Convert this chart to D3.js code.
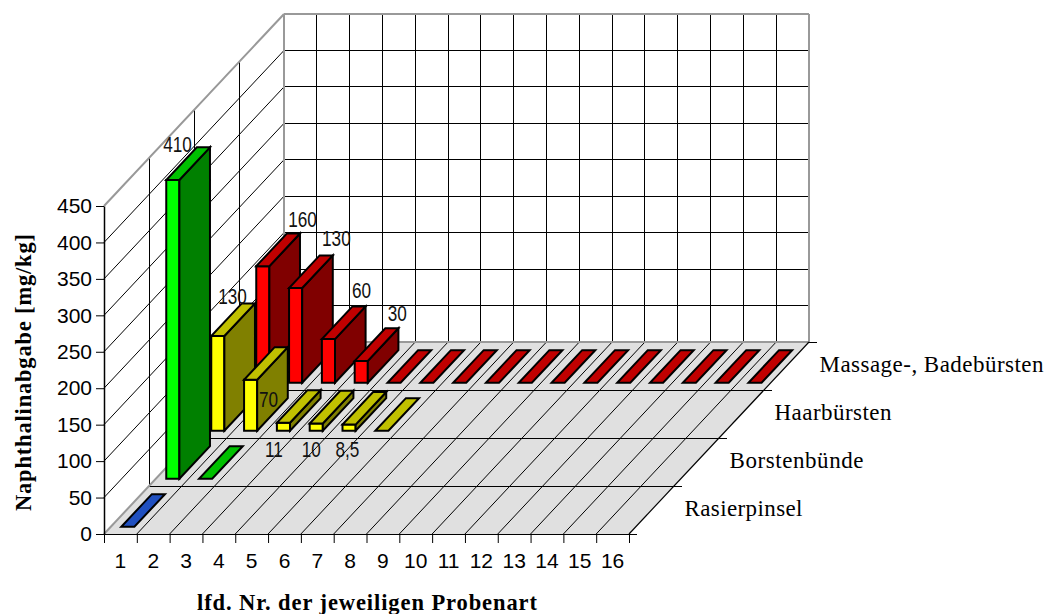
<!DOCTYPE html>
<html>
<head>
<meta charset="utf-8">
<script src="https://cdn.jsdelivr.net/npm/d3@7"></script>
<style>
    html, body { margin: 0; padding: 0; background: #fff; }
    svg { display: block; }
    .num { font-family: "Liberation Sans", Arial, sans-serif; fill: #000; }
    .serif { font-family: "Liberation Serif", "Times New Roman", serif; fill: #000; }
</style>
</head>
<body>
<div id="chart"></div>
<script>
const probeNumbers = ["1","2","3","4","5","6","7","8","9","10","11","12","13","14","15","16"];
const seriesNames = ["Rasierpinsel", "Borstenbünde", "Haarbürsten", "Massage-, Badebürsten"];
const valueTicks = [0, 50, 100, 150, 200, 250, 300, 350, 400, 450];

const rasierpinsel = [0];
const borstenbuende = [410, 0];
const haarbuersten = [130, 70, 11, 10, 8.5, 0];
const massagebuersten = [160, 130, 60, 30, 0, 0, 0, 0, 0, 0, 0, 0, 0, 0, 0, 0];

const seriesValues = [rasierpinsel, borstenbuende, haarbuersten, massagebuersten];
const seriesColors = [
    { front: "#2040ff", top: "#2050c0", side: "#102080" },
    { front: "#00ff00", top: "#00c000", side: "#008000" },
    { front: "#ffff00", top: "#c0c000", side: "#808000" },
    { front: "#ff0000", top: "#c00000", side: "#800000" }
];

// hand placed value labels in the original, [series, bar, dx, dy] from the bar's top front-left corner
const labelNudge = [
    [1, 0, -3, -28], [2, 0, 7, -32], [2, 1, 15, 27],
    [2, 2, -12, 34], [2, 3, -8, 33], [2, 4, -7, 32],
    [3, 0, 32, -39], [3, 1, 33, -42], [3, 2, 30, -41], [3, 3, 33, -40]
];

const width = 1044, height = 614;
const svg = d3.select("#chart").append("svg").attr("width", width).attr("height", height);

// floor plane scales
const xEdge = d3.scaleLinear().domain([0, 16]).range([104, 629]);
const xBand = d3.scaleBand().domain(probeNumbers).range([104, 629]);
const zScale = d3.scaleLinear().domain([0, 4]).range([0, 192]);
const yScale = d3.scaleLinear().domain([0, 450]).range([534, 206]);
const skew = 180 / 192;

// c: position along x in cells, r: depth in rows, v: value
function project(c, r, v) {
    const z = zScale(r);
    return [xEdge(c) + z * skew, yScale(v) - z];
}
const line = d3.line();

function seg(a, b, color, w) {
    const p = project(...a), q = project(...b);
    svg.append("path")
        .attr("d", line([p, q]))
        .attr("stroke", color)
        .attr("stroke-width", w)
        .attr("fill", "none")
        .attr("shape-rendering", (p[0] === q[0] || p[1] === q[1]) ? "crispEdges" : "auto");
}

// floor
svg.append("path")
    .attr("d", line([project(0,0,0), project(16,0,0), project(16,4,0), project(0,4,0)]) + "Z")
    .attr("fill", "#e0e0e0");

// walls grid
valueTicks.forEach(v => {
    if (v > 0) {
        seg([0,0,v], [0,4,v], "#000", 1);
        seg([0,4,v], [16,4,v], "#000", 1);
    }
});
d3.range(1, 16).forEach(c => seg([c,4,0], [c,4,450], "#000", 1));
d3.range(1, 4).forEach(r => seg([0,r,0], [0,r,450], "#000", 1));

// floor grid
d3.range(1, 16).forEach(c => seg([c,0,0], [c,4,0], "#000", 1));
d3.range(1, 4).forEach(r => seg([0,r,0], [16,r,0], "#000", 1));

// grey frame
const frameColor = "#999";
seg([0,0,450], [0,4,450], frameColor, 2);
seg([0,4,450], [16,4,450], frameColor, 2);
seg([16,4,450], [16,4,0], frameColor, 2);
seg([0,4,450], [0,4,0], frameColor, 2);
seg([0,4,0], [16,4,0], frameColor, 2);
seg([0,0,0], [0,4,0], frameColor, 2);

// front edges
seg([16,0,0], [16,4,0], "#000", 1.2);

// bars, back row first, left to right
const barLeft = 0.32, barRight = 0.72, barFront = 0.15, barBack = 0.83;

d3.range(seriesValues.length - 1, -1, -1).forEach(s => {
    const colors = seriesColors[s];
    seriesValues[s].forEach((value, i) => {
        const l = i + barLeft, rt = i + barRight, f = s + barFront, b = s + barBack;
        const g = svg.append("g").attr("class", "bar")
            .attr("stroke", "#000").attr("stroke-width", 2).attr("stroke-linejoin", "miter");
        if (value > 0) {
            g.append("path").attr("fill", colors.front)
                .attr("d", line([project(l,f,0), project(rt,f,0), project(rt,f,value), project(l,f,value)]) + "Z");
            g.append("path").attr("fill", colors.side)
                .attr("d", line([project(rt,f,0), project(rt,b,0), project(rt,b,value), project(rt,f,value)]) + "Z");
        }
        g.append("path").attr("fill", colors.top)
            .attr("d", line([project(l,f,value), project(rt,f,value), project(rt,b,value), project(l,b,value)]) + "Z");
    });
});

// axes
const yAxis = d3.axisLeft(yScale).tickValues(valueTicks).tickSize(8).tickPadding(4).tickSizeOuter(0);
const yG = svg.append("g").attr("transform", "translate(104,0)").call(yAxis);
yG.select(".domain").attr("stroke", "#000").attr("stroke-width", 1.5);
yG.selectAll("text").attr("class", "num").style("font-size", "21px").attr("font-family", null);

const xTicks = d3.axisBottom(xEdge).tickValues(d3.range(17)).tickSize(9).tickSizeOuter(0).tickFormat("");
const xTickG = svg.append("g").attr("transform", "translate(0,534)").call(xTicks);
xTickG.select(".domain").attr("stroke", "#000");

const xLabels = d3.axisBottom(xBand).tickSize(0).tickPadding(19);
const xG = svg.append("g").attr("transform", "translate(0,534)").call(xLabels);
xG.select(".domain").remove();
xG.selectAll("text").attr("class", "num").style("font-size", "21px").attr("font-family", null);

// depth ticks
d3.range(0, 5).forEach(r => {
    const p = project(16, r, 0);
    svg.append("path").attr("d", line([p, [p[0] + 8, p[1]]])).attr("stroke", "#000").attr("stroke-width", 1)
        .attr("shape-rendering", "crispEdges");
});

// series names
const seriesLabelWidths = [118, 134, 117, 224];
seriesNames.forEach((name, s) => {
    const p = project(16, s + 0.5, 0);
    svg.append("text").attr("class", "serif")
        .attr("x", p[0] + 33).attr("y", p[1] + 6)
        .attr("textLength", seriesLabelWidths[s]).attr("lengthAdjust", "spacing")
        .style("font-size", "23px")
        .text(name);
});

// value labels, narrow like the original
labelNudge.forEach(([s, i, dx, dy]) => {
    const value = seriesValues[s][i];
    const p = project(i + barLeft, s + barFront, value);
    const text = String(value).replace(".", ",");
    svg.append("text").attr("class", "num")
        .attr("transform", `translate(${p[0] + dx},${p[1] + dy}) scale(0.78,1)`)
        .style("font-size", "22px")
        .style("fill", "#111")
        .text(text);
});

// axis titles
svg.append("text").attr("class", "serif")
    .attr("x", 197).attr("y", 610)
    .attr("textLength", 340).attr("lengthAdjust", "spacing")
    .style("font-size", "22.5px").style("font-weight", "bold")
    .text("lfd. Nr. der jeweiligen Probenart");

svg.append("text").attr("class", "serif")
    .attr("transform", "translate(31,511) rotate(-90)")
    .attr("textLength", 277).attr("lengthAdjust", "spacing")
    .style("font-size", "22.5px").style("font-weight", "bold")
    .text("Naphthalinabgabe [mg/kg]");
</script>
</body>
</html>
